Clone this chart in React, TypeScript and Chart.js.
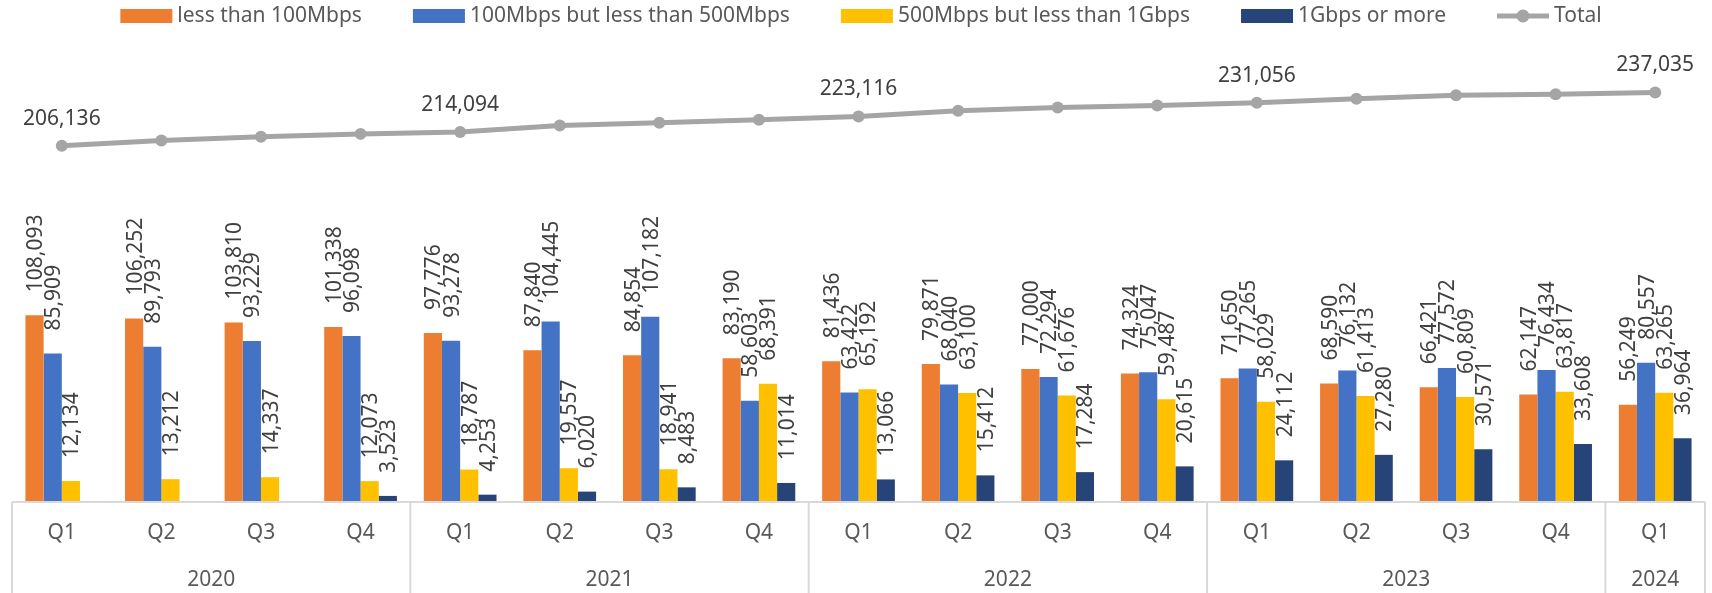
import React, { useEffect, useRef } from "react";
import { Chart, registerables } from "chart.js";

Chart.register(...registerables);

const QUARTERS = ["Q1", "Q2", "Q3", "Q4", "Q1", "Q2", "Q3", "Q4", "Q1", "Q2", "Q3", "Q4", "Q1", "Q2", "Q3", "Q4", "Q1"];
const YEARS = ["2020", "2021", "2022", "2023", "2024"];
const QUARTERS_PER_YEAR = [4, 4, 4, 4, 1];

const LESS_100M = [108093, 106252, 103810, 101338, 97776, 87840, 84854, 83190, 81436, 79871, 77000, 74324, 71650, 68590, 66421, 62147, 56249];
const M100_TO_500M = [85909, 89793, 93229, 96098, 93278, 104445, 107182, 58603, 63422, 68040, 72294, 75047, 77265, 76132, 77572, 76434, 80557];
const M500_TO_1G = [12134, 13212, 14337, 12073, 18787, 19557, 18941, 68391, 65192, 63100, 61676, 59487, 58029, 61413, 60809, 63817, 63265];
const G1_OR_MORE = [null, null, null, 3523, 4253, 6020, 8483, 11014, 13066, 15412, 17284, 20615, 24112, 27280, 30571, 33608, 36964];
const TOTAL = [206136, 209257, 211376, 213032, 214094, 217862, 219460, 221198, 223116, 226423, 228254, 229473, 231056, 233415, 235373, 236006, 237035];

const SERIES_NAMES = ["less than 100Mbps", "100Mbps but less than 500Mbps", "500Mbps but less than 1Gbps", "1Gbps or more", "Total"];
const COLORS = ["#ED7D31", "#4472C4", "#FFC000", "#264478", "#A5A5A5"];

const FONT = "21px 'Noto Sans'";
const fmt = (v: number) => v.toLocaleString("en-US");

const overlayPlugin = {
  id: "overlay",
  afterDraw(chart: any) {
    const ctx = chart.ctx as CanvasRenderingContext2D;
    const xs = chart.scales.x;
    const area = chart.chartArea;
    const catW = xs.getPixelForValue(1) - xs.getPixelForValue(0);
    const leftEdge = xs.getPixelForValue(0) - catW / 2;
    const rightEdge = xs.getPixelForValue(QUARTERS.length - 1) + catW / 2;
    const H = chart.height;

    ctx.save();
    // axis lines
    ctx.strokeStyle = "#D9D9D9";
    ctx.lineWidth = 2;
    ctx.beginPath();
    ctx.moveTo(leftEdge, area.bottom);
    ctx.lineTo(rightEdge, area.bottom);
    ctx.stroke();
    let idx = 0;
    const bounds: number[] = [leftEdge];
    QUARTERS_PER_YEAR.forEach((n) => {
      idx += n;
      bounds.push(xs.getPixelForValue(idx - 1) + catW / 2);
    });
    bounds.forEach((bx) => {
      ctx.beginPath();
      ctx.moveTo(bx, area.bottom);
      ctx.lineTo(bx, H);
      ctx.stroke();
    });

    // axis labels
    ctx.fillStyle = "#595959";
    ctx.font = FONT;
    ctx.textAlign = "center";
    ctx.textBaseline = "middle";
    QUARTERS.forEach((q, i) => {
      ctx.fillText(q, xs.getPixelForValue(i), 533);
    });
    idx = 0;
    YEARS.forEach((y, k) => {
      const a = xs.getPixelForValue(idx) - catW / 2;
      idx += QUARTERS_PER_YEAR[k];
      const b = xs.getPixelForValue(idx - 1) + catW / 2;
      ctx.fillText(y, (a + b) / 2, 580);
    });

    // bar data labels
    ctx.fillStyle = "#404040";
    ctx.textAlign = "left";
    ctx.textBaseline = "alphabetic";
    for (let d = 0; d < 4; d++) {
      const meta = chart.getDatasetMeta(d);
      const vals = chart.data.datasets[d].data;
      meta.data.forEach((el: any, j: number) => {
        const v = vals[j];
        if (v == null) return;
        ctx.save();
        ctx.translate(el.x + 7.5, el.y - 23);
        ctx.rotate(-Math.PI / 2);
        ctx.fillText(fmt(v), 0, 0);
        ctx.restore();
      });
    }

    // total labels
    const lm = chart.getDatasetMeta(4);
    ctx.textAlign = "center";
    lm.data.forEach((el: any, j: number) => {
      if (QUARTERS[j] !== "Q1") return;
      ctx.fillText(fmt(TOTAL[j]), el.x, el.y - 21);
    });

    // legend
    ctx.font = FONT;
    ctx.textBaseline = "middle";
    ctx.textAlign = "left";
    const swW = 52;
    const gapIn = 5;
    const gapOut = 51;
    const widths = SERIES_NAMES.map((n) => ctx.measureText(n).width);
    const total = widths.reduce((s, w) => s + swW + gapIn + w, 0) + gapOut * (SERIES_NAMES.length - 1);
    let lx = 861 - total / 2;
    const ly = 16;
    SERIES_NAMES.forEach((n, i) => {
      if (i < 4) {
        ctx.fillStyle = COLORS[i];
        ctx.fillRect(lx, ly - 7, swW, 14);
      } else {
        ctx.strokeStyle = COLORS[4];
        ctx.lineWidth = 5;
        ctx.beginPath();
        ctx.moveTo(lx, ly);
        ctx.lineTo(lx + swW, ly);
        ctx.stroke();
        ctx.fillStyle = COLORS[4];
        ctx.beginPath();
        ctx.arc(lx + swW / 2, ly, 6.5, 0, Math.PI * 2);
        ctx.fill();
      }
      ctx.fillStyle = "#595959";
      ctx.fillText(n, lx + swW + gapIn, ly);
      lx += swW + gapIn + widths[i] + gapOut;
    });
    ctx.restore();
  },
};

export default function App() {
  const ref = useRef<HTMLCanvasElement | null>(null);
  useEffect(() => {
    if (!ref.current) return;
    const barDs = [LESS_100M, M100_TO_500M, M500_TO_1G, G1_OR_MORE].map((d, i) => ({
      type: "bar" as const,
      label: SERIES_NAMES[i],
      data: d,
      backgroundColor: COLORS[i],
      borderWidth: 0,
      order: 2,
      categoryPercentage: 0.73,
      barPercentage: 1,
    }));
    const chart = new Chart(ref.current, {
      type: "bar",
      data: {
        labels: QUARTERS,
        datasets: [
          ...barDs,
          {
            type: "line" as const,
            label: SERIES_NAMES[4],
            data: TOTAL,
            borderColor: COLORS[4],
            backgroundColor: COLORS[4],
            borderWidth: 5,
            pointRadius: 6,
            pointBackgroundColor: COLORS[4],
            pointBorderWidth: 0,
            tension: 0,
            order: 1,
          },
        ] as any,
      },
      options: {
        responsive: false,
        animation: false,
        devicePixelRatio: 1,
        layout: { padding: { left: 12, right: 7, top: 70, bottom: 91 } },
        scales: {
          x: { display: false, offset: true },
          y: { display: false, min: 0, max: 250000 },
        },
        plugins: { legend: { display: false }, tooltip: { enabled: false } },
      },
      plugins: [overlayPlugin],
    });
    return () => chart.destroy();
  }, []);
  return (
    <div style={{ position: "absolute", left: 0, top: 0, width: 1712, height: 593, background: "#fff" }}>
      <canvas ref={ref} width={1712} height={593} />
    </div>
  );
}
